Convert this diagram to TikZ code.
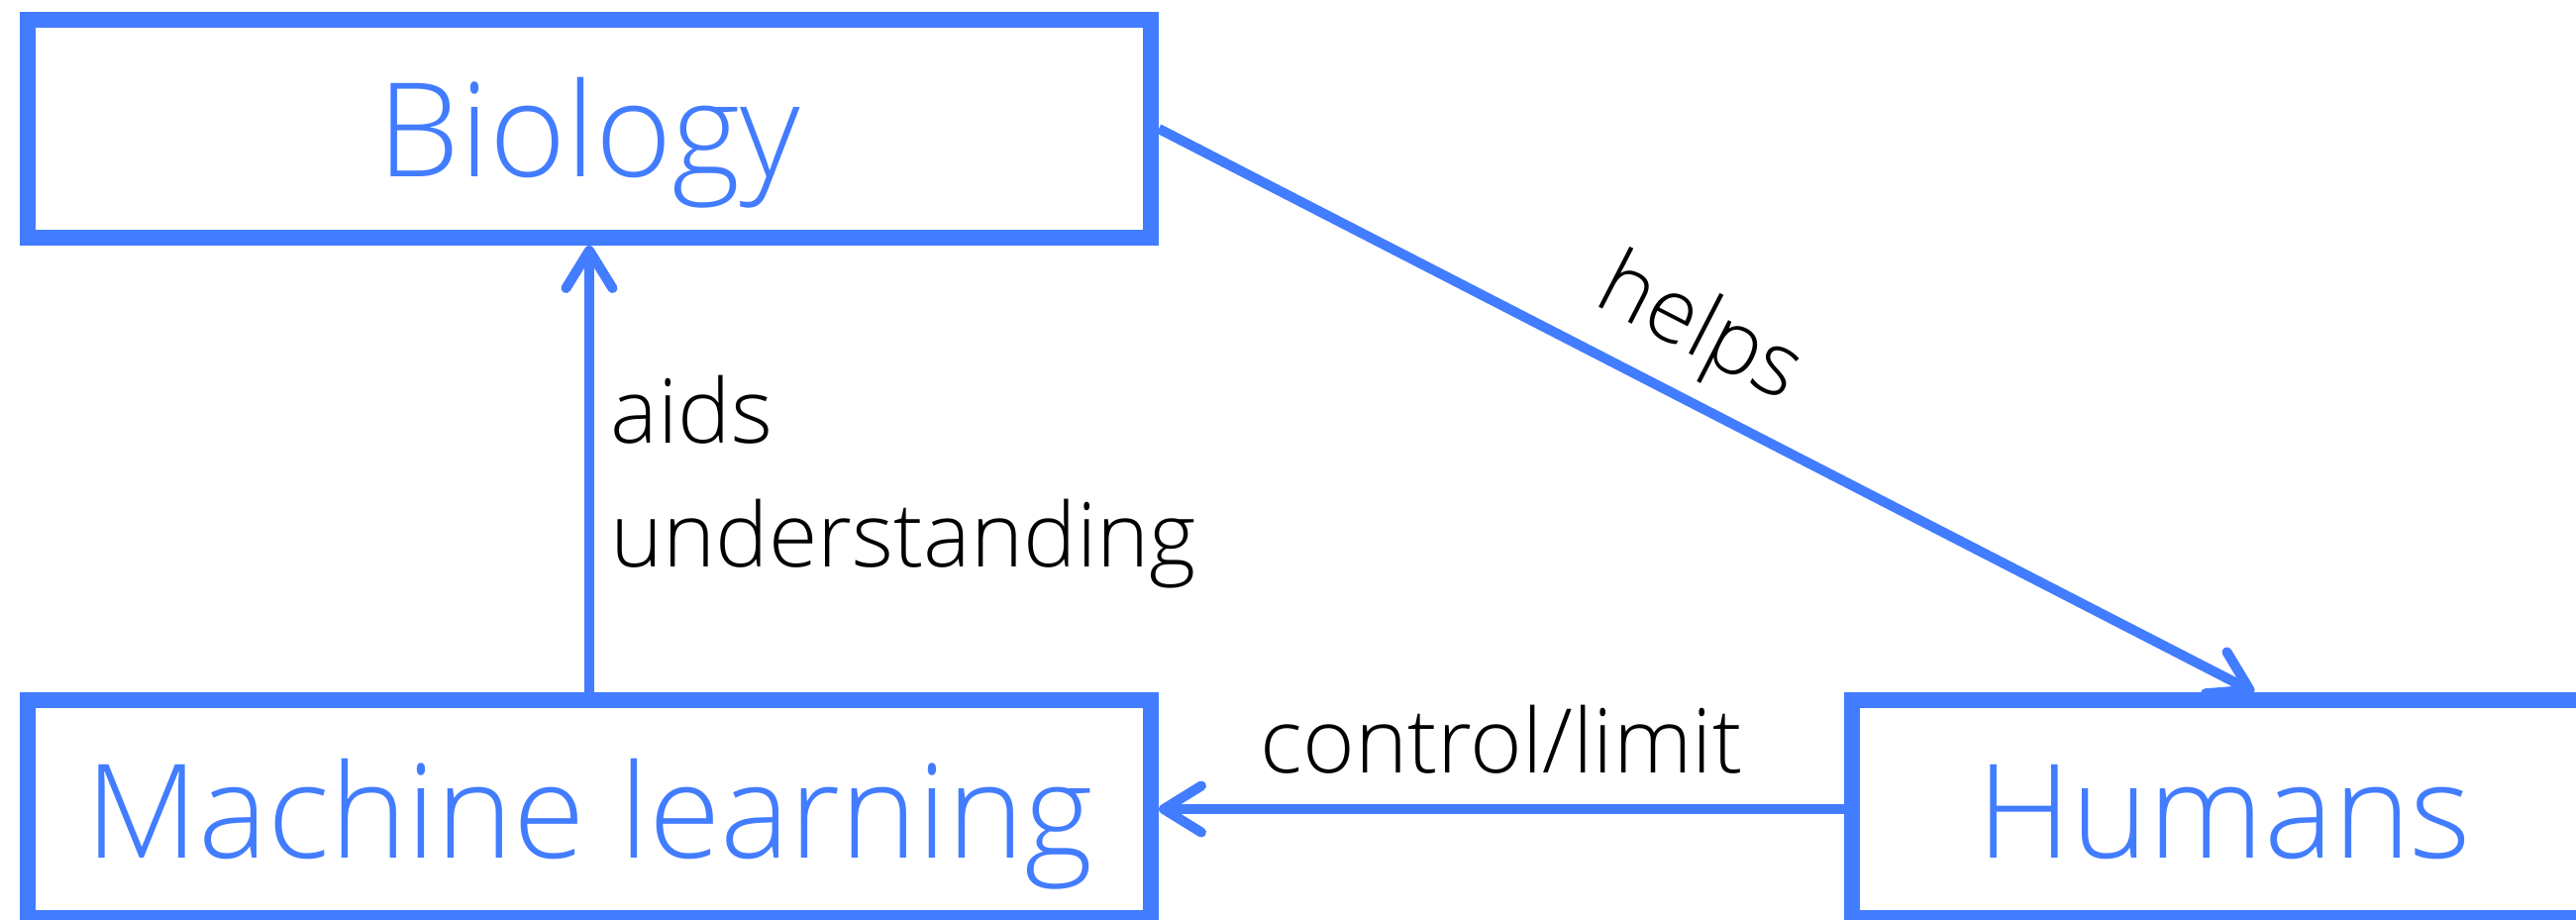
\documentclass[tikz,border=0pt]{standalone}
\usepackage{fontspec}
\setmainfont{Open Sans}[UprightFont={* Light}]
\usetikzlibrary{arrows.meta}
\definecolor{boxblue}{RGB}{66,124,255}

\begin{document}
\begin{tikzpicture}[x=0.5pt, y=-0.5pt,
    box/.style = {draw=boxblue, line width=8pt, text=boxblue, inner sep=0pt,
                  minimum height=110pt, text height=49pt, text depth=0pt,
                  font=\fontsize{66}{72}\selectfont},
    link/.style = {draw=boxblue, line width=5pt,
                   -{Straight Barb[length=19pt, width=23.5pt, round]}},
    lbl/.style = {font=\fontsize{45}{62.5}\selectfont}]
    \useasboundingbox (0,0) rectangle (2601,929);
    \clip (0,0) rectangle (2601,929);
    % boxes
    \node[box, minimum width=567pt] (bio) at (595,130) {Biology};
    \node[box, minimum width=567pt] (ml) at (595,817) {Machine learning};
    \node[box, minimum width=376pt] (hum) at (2246,817) {Humans};
    % arrows
    \draw[link] (ml) -- (bio)
        node[lbl, pos=0.47, right=5pt, align=left] {aids\\understanding};
    \draw[link] (bio.east) -- ([xshift=15pt]hum.north)
        node[lbl, pos=0.465, above=5pt, sloped] {helps};
    \draw[link] (hum) -- (ml)
        node[lbl, midway, above=12pt] {control/limit};
\end{tikzpicture}
\end{document}
